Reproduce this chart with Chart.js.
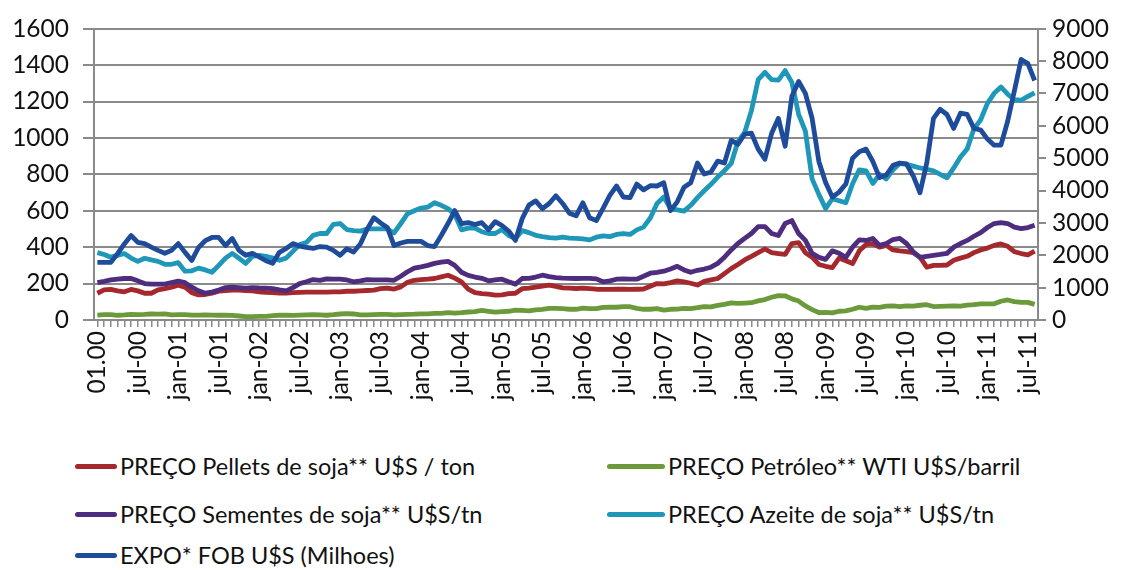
<!DOCTYPE html>
<html>
<head>
<meta charset="utf-8">
<script src="https://cdn.jsdelivr.net/npm/chart.js@4/dist/chart.umd.min.js"></script>
<style>
  html, body { margin: 0; padding: 0; background: #fff; }
  body { width: 1126px; height: 570px; position: relative; overflow: hidden; font-family: Lato, sans-serif; }
  #wrap { position: absolute; left: 0; top: 0; width: 1126px; height: 430px; }
  .leg { position: absolute; display: flex; align-items: center; font-size: 23.5px; color: #111; white-space: nowrap; }
  .leg span.ln { display: inline-block; height: 5px; border-radius: 3px; margin-right: 3px; }
</style>
</head>
<body>
<div id="wrap"><canvas id="chart"></canvas></div>
<div id="legend"></div>
<script>
// tick labels shown every 6 months
const tickLabels = ['01.00', 'jul-00', 'jan-01', 'jul-01', 'jan-02', 'jul-02', 'jan-03', 'jul-03',
  'jan-04', 'jul-04', 'jan-05', 'jul-05', 'jan-06', 'jul-06', 'jan-07', 'jul-07',
  'jan-08', 'jul-08', 'jan-09', 'jul-09', 'jan-10', 'jul-10', 'jan-11', 'jul-11'];

// monthly categories jan-00 .. ago-11
const monthNames = ['jan', 'fev', 'mar', 'abr', 'mai', 'jun', 'jul', 'ago', 'set', 'out', 'nov', 'dez'];
const categories = [];
for (let y = 0; y < 12; y++) {
  for (let m = 0; m < 12; m++) {
    if (categories.length < 140) categories.push(monthNames[m] + '-' + String(y).padStart(2, '0'));
  }
}

const pellets = [
  147, 165, 168, 160, 155, 168, 160, 147, 147, 165, 172, 180,
  191, 180, 150, 138, 140, 147, 158, 162, 164, 164, 162, 160,
  155, 152, 150, 148, 148, 150, 152, 153, 153, 153, 153, 155,
  155, 158, 158, 160, 162, 164, 172, 175, 170, 182, 207, 218,
  222, 224, 228, 237, 246, 230, 210, 170, 150, 145, 142, 137,
  138, 145, 147, 172, 175, 180, 186, 191, 185, 176, 175, 173,
  175, 172, 169, 168, 168, 169, 169, 168, 169, 170, 185, 200,
  198, 205, 215, 210, 202, 192, 212, 220, 228, 255, 282, 305,
  330, 350, 370, 390, 370, 365, 360, 420, 425, 370, 345, 305,
  295, 288, 340, 325, 310, 380, 415, 420, 400, 410, 385, 380,
  376, 370, 345, 290, 300, 300, 302, 328, 340, 350, 370, 385,
  395, 410, 418, 405, 375, 365, 358, 378];

const petroleo = [
  27, 29, 30, 26, 28, 31, 30, 31, 33, 32, 34, 28,
  29, 29, 27, 27, 28, 27, 26, 27, 25, 22, 19, 19,
  20, 20, 24, 26, 27, 25, 27, 28, 29, 28, 26, 29,
  33, 35, 33, 28, 28, 30, 31, 31, 28, 30, 31, 32,
  34, 34, 36, 36, 40, 38, 40, 44, 46, 53, 48, 43,
  46, 48, 54, 53, 50, 56, 58, 64, 64, 62, 59, 59,
  65, 62, 62, 69, 70, 70, 74, 73, 64, 59, 59, 62,
  54, 59, 60, 64, 63, 68, 74, 72, 80, 86, 94, 91,
  93, 95, 105, 112, 125, 134, 133, 116, 104, 77, 57, 41,
  42, 39, 48, 50, 59, 70, 64, 71, 69, 76, 78, 74,
  78, 76, 81, 84, 74, 75, 76, 77, 76, 82, 84, 89,
  89, 89, 103, 110, 101, 97, 97, 86];

const sementes = [
  205, 212, 220, 224, 228, 228, 215, 200, 197, 197, 197, 205,
  213, 205, 180, 160, 147, 153, 165, 178, 180, 178, 175, 178,
  176, 175, 172, 165, 160, 178, 200, 210, 222, 218, 226, 224,
  224, 220, 210, 215, 222, 220, 220, 220, 218, 240, 265, 285,
  292, 300, 311, 318, 322, 300, 262, 245, 236, 229, 215, 220,
  224, 210, 197, 228, 229, 236, 246, 238, 233, 230, 229, 228,
  229, 229, 226, 210, 215, 224, 226, 224, 224, 240, 257, 262,
  268, 280, 295, 275, 262, 273, 280, 290, 311, 345, 385, 420,
  448, 475, 513, 513, 475, 464, 530, 546, 475, 437, 366, 344,
  333, 380, 366, 344, 400, 440, 437, 448, 410, 420, 442, 448,
  420, 375, 344, 350, 355, 360, 366, 400, 420, 437, 460, 480,
  508, 530, 535, 530, 510, 502, 508, 520];

const azeite = [
  370, 360, 345, 355, 365, 340, 322, 339, 330, 322, 306, 306,
  315, 268, 270, 285, 275, 262, 300, 340, 366, 339, 311, 350,
  355, 350, 340, 328, 340, 377, 415, 426, 465, 475, 475, 525,
  530, 497, 491, 488, 500, 500, 500, 500, 478, 530, 584, 600,
  615, 620, 644, 630, 612, 580, 495, 505, 505, 485, 475, 475,
  497, 464, 448, 491, 480, 465, 458, 453, 450, 455, 450, 448,
  445, 440, 455, 462, 458, 470, 475, 470, 495, 510, 560, 640,
  675, 612, 605, 598, 630, 672, 710, 745, 785, 820, 860, 980,
  1030, 1150, 1320, 1360, 1320, 1318, 1370, 1305, 1130, 1037, 775, 690,
  612, 666, 655, 644, 748, 825, 819, 750, 800, 775, 825, 860,
  855, 845, 835, 828, 819, 800, 781, 835, 895, 940, 1050, 1100,
  1190, 1245, 1280, 1240, 1210, 1207, 1228, 1248];

// right axis, millions of US$
const expo = [
  1780, 1780, 1780, 2050, 2350, 2610, 2400, 2360, 2250, 2150, 2060, 2150,
  2360, 2090, 1840, 2240, 2450, 2550, 2550, 2300, 2520, 2150, 2000, 2060,
  1950, 1830, 1750, 2090, 2210, 2360, 2280, 2240, 2210, 2270, 2250, 2150,
  2000, 2200, 2100, 2350, 2800, 3160, 3000, 2860, 2300, 2380, 2430, 2430,
  2430, 2300, 2270, 2610, 2980, 3380, 2980, 3010, 2950, 3010, 2790, 3040,
  2920, 2750, 2460, 3130, 3550, 3680, 3440, 3600, 3840, 3600, 3300, 3220,
  3620, 3160, 3070, 3450, 3850, 4140, 3800, 3780, 4200, 4020, 4150, 4140,
  4240, 3380, 3650, 4100, 4240, 4850, 4510, 4570, 4910, 4850, 5550, 5430,
  5740, 5770, 5280, 4970, 5770, 6230, 5370, 6910, 7370, 7000, 6230, 4900,
  4250, 3800, 3950, 4200, 5000, 5200, 5280, 4900, 4400, 4480, 4780, 4850,
  4820, 4450, 3930, 4850, 6230, 6510, 6350, 5920, 6390, 6350, 5920, 5870,
  5590, 5400, 5400, 6140, 7080, 8050, 7920, 7400];

const seriesNames = ['PREÇO Pellets de soja** U$S / ton', 'PREÇO Petróleo** WTI U$S/barril',
  'PREÇO Sementes de soja** U$S/tn', 'PREÇO Azeite de soja** U$S/tn', 'EXPO* FOB U$S (Milhoes)'];
const seriesColors = ['#A4282C', '#6B9A3B', '#4E2C7E', '#1F97B9', '#1F4B9B'];

const gridGray = '#8a8a8a';
const font = { family: 'Lato, sans-serif', size: 24.5 };

const line = (i, data, axis) => ({
  label: seriesNames[i],
  data: data,
  yAxisID: axis,
  borderColor: seriesColors[i],
  backgroundColor: seriesColors[i],
  borderWidth: 4.8,
  pointRadius: 0,
  tension: 0,
  borderJoinStyle: 'round',
  order: 5 - i
});

const chart = new Chart(document.getElementById('chart'), {
  type: 'line',
  data: {
    labels: categories,
    datasets: [
      line(0, pellets, 'y'),
      line(1, petroleo, 'y'),
      line(2, sementes, 'y'),
      line(3, azeite, 'y'),
      line(4, expo, 'y1')
    ]
  },
  options: {
    responsive: true,
    maintainAspectRatio: false,
    animation: false,
    layout: { padding: { top: 27, left: 0, right: 0, bottom: 0 } },
    plugins: {
      legend: { display: false },
      tooltip: { enabled: false }
    },
    scales: {
      x: {
        offset: true,
        afterFit: (s) => { s.height = 110; },
        grid: { drawOnChartArea: false, color: gridGray, tickLength: 7, lineWidth: 1.5 },
        border: { color: gridGray, width: 2 },
        ticks: {
          autoSkip: false, minRotation: 90, maxRotation: 90, padding: 4,
          color: '#111', font: font,
          callback: (v, idx) => (idx % 6 === 0 ? tickLabels[idx / 6] : '')
        }
      },
      y: {
        position: 'left',
        min: 0, max: 1600,
        afterFit: (s) => { s.width = 94; },
        grid: { color: gridGray, lineWidth: 2, tickLength: 11 },
        border: { color: gridGray, width: 2 },
        ticks: { stepSize: 200, autoSkip: false, padding: 14, color: '#111', font: font, callback: (v) => String(v) }
      },
      y1: {
        position: 'right',
        min: 0, max: 9000,
        afterFit: (s) => { s.width = 88; },
        grid: { drawOnChartArea: false, color: gridGray, lineWidth: 2, tickLength: 8 },
        border: { color: gridGray, width: 2 },
        ticks: { stepSize: 1000, autoSkip: false, padding: 6, color: '#111', font: font, callback: (v) => String(v) }
      }
    }
  }
});

// legend laid out in two columns like the original
const legendPos = [[75, 466, 42], [607, 466, 58], [75, 514, 42], [607, 514, 58], [75, 555, 42]];
const legendBox = document.getElementById('legend');
chart.data.datasets.forEach((ds, i) => {
  const el = document.createElement('div');
  el.className = 'leg';
  el.style.left = legendPos[i][0] + 'px';
  el.style.top = (legendPos[i][1] - 15) + 'px';
  el.style.height = '30px';
  el.innerHTML = '<span class="ln" style="width:' + legendPos[i][2] + 'px;background:' + ds.borderColor + '"></span>' + ds.label;
  legendBox.appendChild(el);
});
</script>
</body>
</html>
